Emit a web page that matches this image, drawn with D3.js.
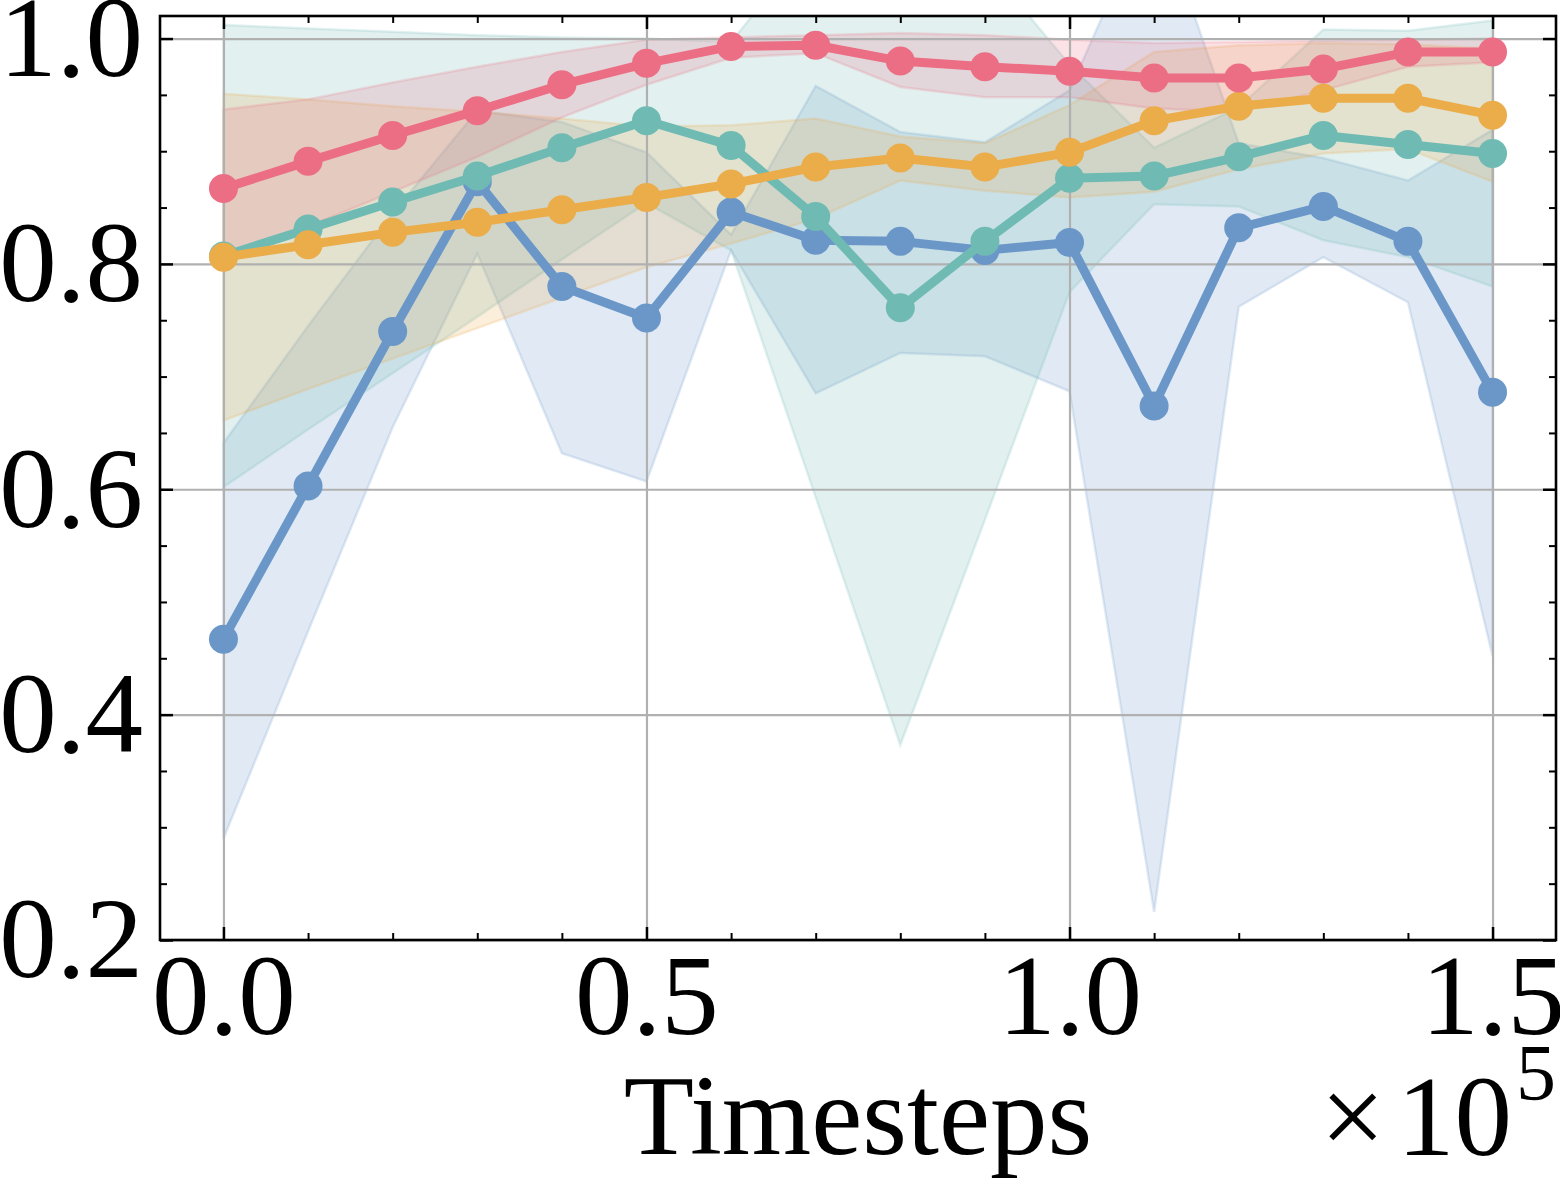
<!DOCTYPE html>
<html>
<head>
<meta charset="utf-8">
<script src="https://cdn.jsdelivr.net/npm/d3@7/dist/d3.min.js"></script>
<style>
  body { margin: 0; background: #fff; }
  text { font-family: "Liberation Serif", "Times New Roman", serif; fill: #000; }
</style>
</head>
<body>
<div id="chart"></div>
<script>
// timesteps, in units of 1e5
const steps = [0.0, 0.1, 0.2, 0.3, 0.4, 0.5, 0.6, 0.7, 0.8, 0.9, 1.0, 1.1, 1.2, 1.3, 1.4, 1.5];

const blueMean = [0.467, 0.603, 0.740, 0.873, 0.780, 0.752, 0.846, 0.821, 0.820, 0.812, 0.819, 0.674, 0.832, 0.851, 0.820, 0.686];
const blueLow  = [0.290, 0.474, 0.655, 0.809, 0.632, 0.607, 0.812, 0.685, 0.721, 0.718, 0.687, 0.225, 0.762, 0.806, 0.766, 0.452];
const blueHigh = [0.641, 0.745, 0.845, 0.936, 0.926, 0.899, 0.826, 0.958, 0.917, 0.908, 0.954, 1.123, 0.907, 0.894, 0.874, 0.919];

const tealMean = [0.807, 0.831, 0.855, 0.878, 0.903, 0.927, 0.905, 0.842, 0.761, 0.820, 0.876, 0.878, 0.895, 0.914, 0.906, 0.898];
const tealLow  = [0.602, 0.653, 0.703, 0.753, 0.804, 0.854, 0.812, 0.593, 0.373, 0.573, 0.775, 0.853, 0.851, 0.821, 0.806, 0.780];
const tealHigh = [1.012, 1.009, 1.006, 1.003, 1.001, 1.000, 0.997, 1.090, 1.149, 1.067, 0.977, 0.903, 0.939, 1.008, 1.007, 1.016];

const orangeMean = [0.806, 0.817, 0.828, 0.837, 0.848, 0.859, 0.871, 0.886, 0.894, 0.886, 0.899, 0.927, 0.940, 0.947, 0.947, 0.932];
const orangeLow  = [0.661, 0.689, 0.716, 0.743, 0.770, 0.797, 0.818, 0.840, 0.874, 0.865, 0.859, 0.864, 0.884, 0.898, 0.902, 0.873];
const orangeHigh = [0.951, 0.946, 0.940, 0.935, 0.929, 0.922, 0.923, 0.929, 0.913, 0.907, 0.941, 0.988, 0.994, 0.996, 0.995, 0.991];

const pinkMean = [0.867, 0.891, 0.914, 0.936, 0.959, 0.978, 0.993, 0.994, 0.980, 0.975, 0.971, 0.965, 0.965, 0.973, 0.988, 0.988];
const pinkLow  = [0.804, 0.833, 0.864, 0.895, 0.930, 0.959, 0.983, 0.987, 0.957, 0.948, 0.948, 0.938, 0.935, 0.954, 0.975, 0.979];
const pinkHigh = [0.937, 0.946, 0.961, 0.975, 0.988, 0.999, 1.001, 1.003, 1.005, 1.003, 0.999, 0.996, 0.997, 0.998, 0.999, 1.000];

const xMajor = [0.0, 0.5, 1.0, 1.5];
const yMajor = [0.2, 0.4, 0.6, 0.8, 1.0];

const series = [
  { color: "#6a97c8", mean: blueMean, low: blueLow, high: blueHigh },
  { color: "#6fbbb3", mean: tealMean, low: tealLow, high: tealHigh },
  { color: "#ebac4a", mean: orangeMean, low: orangeLow, high: orangeHigh },
  { color: "#ec6e84", mean: pinkMean, low: pinkLow, high: pinkHigh },
];

const W = 1560, H = 1181;
const margin = { top: 16, right: 4, bottom: 241, left: 160 };
const width = W - margin.left - margin.right;
const height = H - margin.top - margin.bottom;
const fontSize = 115;

const svg = d3.select("#chart").append("svg")
  .attr("width", W)
  .attr("height", H);

const g = svg.append("g")
  .attr("transform", `translate(${margin.left},${margin.top})`);

const x = d3.scaleLinear().domain([-0.075, 1.575]).range([0, width]);
const y = d3.scaleLinear().domain([0.2, 1.02]).range([height, 0]);

g.append("clipPath").attr("id", "plot-clip")
  .append("rect").attr("width", width).attr("height", height);

// shaded bands
const bands = g.append("g").attr("clip-path", "url(#plot-clip)");
series.forEach((s) => {
  const area = d3.area()
    .x((d, i) => x(steps[i]))
    .y0((d, i) => y(s.low[i]))
    .y1((d, i) => y(s.high[i]));
  bands.append("path")
    .datum(s.mean)
    .attr("d", area)
    .attr("fill", s.color)
    .attr("fill-opacity", 0.2)
    .attr("stroke", s.color)
    .attr("stroke-opacity", 0.2)
    .attr("stroke-width", 2.5);
});

// grid
g.append("g")
  .attr("transform", `translate(0,${height})`)
  .call(d3.axisBottom(x).tickValues(xMajor).tickSize(-height).tickFormat(""))
  .call((a) => a.select(".domain").remove())
  .call((a) => a.selectAll("line").attr("stroke", "#b0b0b0").attr("stroke-width", 2.2));
g.append("g")
  .call(d3.axisLeft(y).tickValues(yMajor).tickSize(-width).tickFormat(""))
  .call((a) => a.select(".domain").remove())
  .call((a) => a.selectAll("line").attr("stroke", "#b0b0b0").attr("stroke-width", 2.2));

// lines and markers
const lines = g.append("g").attr("clip-path", "url(#plot-clip)");
series.forEach((s) => {
  const line = d3.line()
    .x((d, i) => x(steps[i]))
    .y((d) => y(d));
  lines.append("path")
    .datum(s.mean)
    .attr("d", line)
    .attr("fill", "none")
    .attr("stroke", s.color)
    .attr("stroke-width", 9)
    .attr("stroke-linejoin", "round");
  lines.selectAll(null)
    .data(s.mean)
    .enter()
    .append("circle")
    .attr("cx", (d, i) => x(steps[i]))
    .attr("cy", (d) => y(d))
    .attr("r", 14.5)
    .attr("fill", s.color);
});

// ticks, pointing inward on all four sides
const xMinor = steps.filter((v) => !xMajor.includes(v));
const yMinor = [0.25, 0.3, 0.35, 0.45, 0.5, 0.55, 0.65, 0.7, 0.75, 0.85, 0.9, 0.95];

function styleAxis(a, w) {
  a.select(".domain").remove();
  a.selectAll("line").attr("stroke", "#000").attr("stroke-width", w);
  a.selectAll("text").style("font-size", `${fontSize}px`);
}

g.append("g").attr("transform", `translate(0,${height})`)
  .call(d3.axisBottom(x).tickValues(xMajor).tickSize(-13).tickPadding(12).tickFormat(d3.format(".1f")))
  .call((a) => styleAxis(a, 2.5));
g.append("g").attr("transform", `translate(0,${height})`)
  .call(d3.axisBottom(x).tickValues(xMinor).tickSize(-7).tickFormat(""))
  .call((a) => styleAxis(a, 2));
g.append("g")
  .call(d3.axisTop(x).tickValues(xMajor).tickSize(-13).tickFormat(""))
  .call((a) => styleAxis(a, 2.5));
g.append("g")
  .call(d3.axisTop(x).tickValues(xMinor).tickSize(-7).tickFormat(""))
  .call((a) => styleAxis(a, 2));

g.append("g")
  .call(d3.axisLeft(y).tickValues(yMajor).tickSize(-13).tickPadding(17).tickFormat(d3.format(".1f")))
  .call((a) => styleAxis(a, 2.5));
g.append("g")
  .call(d3.axisLeft(y).tickValues(yMinor).tickSize(-7).tickFormat(""))
  .call((a) => styleAxis(a, 2));
g.append("g").attr("transform", `translate(${width},0)`)
  .call(d3.axisRight(y).tickValues(yMajor).tickSize(-13).tickFormat(""))
  .call((a) => styleAxis(a, 2.5));
g.append("g").attr("transform", `translate(${width},0)`)
  .call(d3.axisRight(y).tickValues(yMinor).tickSize(-7).tickFormat(""))
  .call((a) => styleAxis(a, 2));

// frame
g.append("rect")
  .attr("width", width)
  .attr("height", height)
  .attr("fill", "none")
  .attr("stroke", "#000")
  .attr("stroke-width", 2.6);

// axis label and offset text
g.append("text")
  .attr("x", width / 2)
  .attr("y", 1154 - margin.top)
  .attr("text-anchor", "middle")
  .style("font-size", `${fontSize}px`)
  .text("Timesteps");

const offset = g.append("text")
  .attr("x", width)
  .attr("y", 1155 - margin.top)
  .attr("text-anchor", "end")
  .style("font-size", `${fontSize}px`);
offset.append("tspan").text("×");
offset.append("tspan").attr("dx", 12).text("10");
offset.append("tspan").attr("dx", 4).attr("dy", -55).style("font-size", "80px").text("5");
</script>
</body>
</html>
